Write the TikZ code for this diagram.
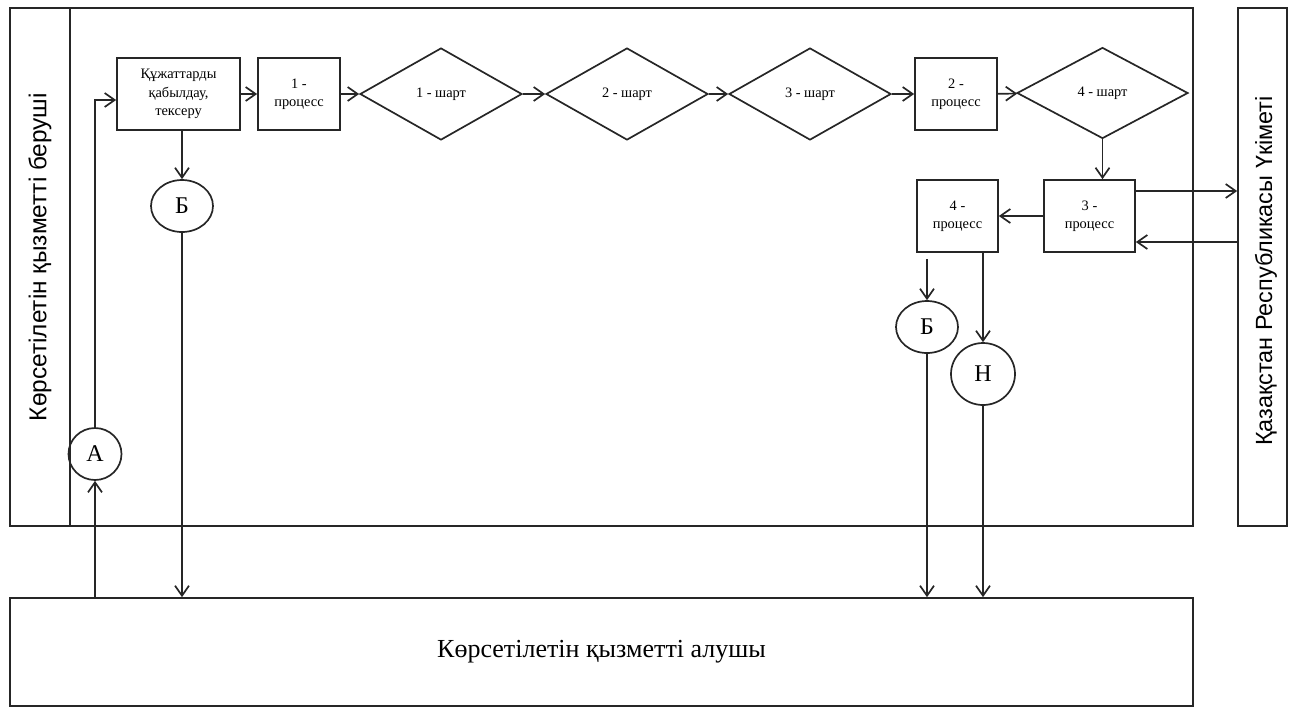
\documentclass[tikz,border=0pt]{standalone}
\usepackage{fontspec}
\setmainfont{Liberation Serif}
\newfontfamily\lanefont{Liberation Sans}
\usetikzlibrary{shapes.geometric,arrows.meta}

\begin{document}
\begin{tikzpicture}[x=0.5pt, y=-0.5pt, line width=0.85pt, draw=black!85,
        arr/.style={-{Straight Barb[length=5pt, width=7pt]}},
        proc/.style={draw, minimum width=41pt, minimum height=36pt, inner sep=1pt,
            align=center, font=\fontsize{7.2}{9.2}\selectfont},
        cond/.style={draw, diamond, minimum width=81pt, minimum height=46pt, inner sep=0pt,
            font=\fontsize{7.2}{9}\selectfont},
        conn/.style={draw, ellipse, minimum width=31pt, minimum height=26pt, inner sep=0pt,
            font=\fontsize{12}{14}\selectfont}]
    \useasboundingbox (0,0) rectangle (1290,709);
    % pools
    \node[draw, minimum width=591.5pt, minimum height=259pt, inner sep=0pt] (prov) at (601.5, 267) {};
    \draw (70, 8) -- (70, 526);
    \node[rotate=90, font=\lanefont\fontsize{12.2}{14}\selectfont] (provlbl) at (40, 257) {Көрсетілетін қызметті беруші};
    \node[draw, minimum width=24.5pt, minimum height=259pt, inner sep=0pt] (gov) at (1262.5, 267) {};
    \node[rotate=90, font=\lanefont\fontsize{11.7}{13}\selectfont] (govlbl) at (1266, 271) {Қазақстан Республикасы Үкіметі};
    \node[draw, minimum width=591.5pt, minimum height=54pt, inner sep=0pt,
        font=\fontsize{13}{15}\selectfont] (user) at (601.5, 652) {Көрсетілетін қызметті алушы};
    % steps
    \node[proc, minimum width=61.5pt] (recv) at (178.5, 94) {Құжаттарды\\қабылдау,\\тексеру};
    \node[proc] (pr1) at (299, 94) {1 -\\процесс};
    \node[cond] (sh1) at (441, 94) {1 - шарт};
    \node[cond] (sh2) at (627, 94) {2 - шарт};
    \node[cond] (sh3) at (810, 94) {3 - шарт};
    \node[proc] (pr2) at (956, 94) {2 -\\процесс};
    \node[cond, minimum width=85.5pt, minimum height=45.5pt] (sh4) at (1102.5, 93) {4 - шарт};
    \node[proc, minimum width=45.5pt] (pr3) at (1089.5, 216) {3 -\\процесс};
    \node[proc, minimum width=40.5pt] (pr4) at (957.5, 216) {4 -\\процесс};
    % connectors
    \node[conn] (b1) at (182, 206) {Б};
    \node[conn, minimum width=26.5pt] (a) at (95, 454) {А};
    \node[conn] (b2) at (927, 327) {Б};
    \node[conn, minimum width=32pt, minimum height=31pt] (n) at (983, 374) {Н};
    % flow
    \foreach \u/\v in {recv/pr1, pr1/sh1, sh1/sh2, sh2/sh3, sh3/pr2, pr2/sh4, pr3/pr4}
        \draw[arr] (\u) -- (\v);
    \draw[arr] (a |- user.north) -- (a);
    \draw[arr] (a) |- ([yshift=-3pt]recv.west);
    \draw[arr] (b1 |- recv.south) -- (b1);
    \draw[arr] (b1) -- (b1 |- user.north);
    \draw[arr] (sh4) -- (sh4 |- pr3.north);
    \draw[arr] ([yshift=12.5pt]pr3.east) -- ([yshift=12.5pt]pr3.east -| gov.west);
    \draw[arr] ([yshift=-13pt]pr3.east -| gov.west) -- ([yshift=-13pt]pr3.east);
    \draw[arr] ([yshift=-3pt]b2 |- pr4.south) -- (b2);
    \draw[arr] (n |- pr4.south) -- (n);
    \draw[arr] (b2) -- (b2 |- user.north);
    \draw[arr] (n) -- (n |- user.north);
\end{tikzpicture}
\end{document}
